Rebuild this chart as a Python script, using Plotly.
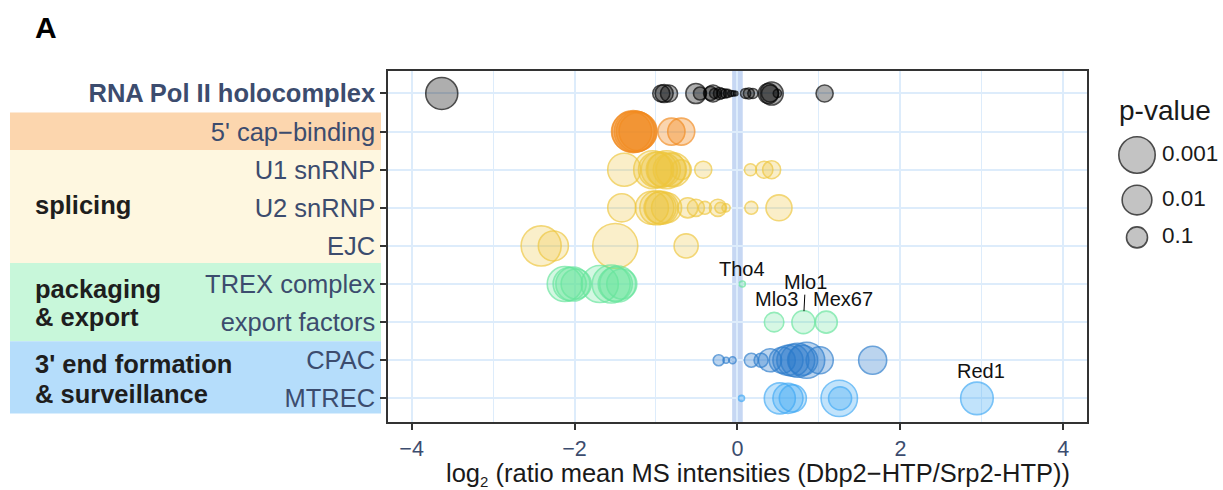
import math
import plotly.graph_objects as go

# ---------------- data ----------------
categories = ["RNA Pol II holocomplex", "5' cap\u2212binding", "U1 snRNP", "U2 snRNP",
              "EJC", "TREX complex", "export factors", "CPAC", "MTREC"]

# log2 ratio values (x) and -log10(p) values (size) per complex
pol2_x = [-3.63, -0.935, -0.90, -0.84, -0.51, -0.46, -0.33, -0.30, -0.28, -0.22, -0.19, -0.15,
          -0.12, -0.08, -0.05, -0.02, 0.10, 0.14, 0.19, 0.38, 0.40, 0.42, 0.49, 1.07]
pol2_s = [2.32, 0.66, 0.73, 0.66, 0.91, 0.38, 0.44, 0.66, 0.23, 0.33, 0.23, 0.18,
          0.15, 0.08, 0.06, 0.04, 0.23, 0.27, 0.23, 0.91, 0.66, 1.20, 0.15, 0.66]

cap_x = [-1.30, -1.28, -1.26, -1.24, -1.22, -0.81, -0.69]
cap_s = [3.63, 4.00, 3.81, 3.63, 3.27, 1.65, 1.65]

u1_x = [-1.39, -1.04, -1.00, -0.96, -0.91, -0.87, -0.83, -0.79, -0.69, -0.42, 0.16, 0.33, 0.42]
u1_s = [2.47, 3.27, 2.78, 2.94, 2.62, 3.27, 2.47, 2.62, 0.91, 0.66, 0.33, 0.66, 0.73]

u2_x = [-1.42, -1.05, -0.99, -0.95, -0.93, -0.87, -0.61, -0.51, -0.40, -0.24, -0.21, -0.14, 0.17, 0.51]
u2_s = [1.78, 2.47, 2.62, 2.32, 2.47, 2.04, 0.91, 0.66, 0.38, 0.66, 0.27, 0.15, 0.38, 1.53]

ejc_x = [-2.41, -2.26, -1.50, -0.63]
ejc_s = [3.63, 2.04, 4.59, 1.31]

trex_x = [-2.12, -2.06, -2.02, -1.98, -1.69, -1.55, -1.50, -1.47, -1.42, 0.06]
trex_s = [2.78, 2.47, 2.62, 2.04, 3.10, 3.27, 2.62, 2.94, 2.04, 0.08]

exp_x = [0.45, 0.81, 1.09]
exp_s = [0.86, 1.20, 1.10]

cpac_x = [-0.23, -0.14, -0.06, 0.17, 0.29, 0.40, 0.55, 0.62, 0.68, 0.74, 0.80, 0.85, 1.01, 1.66]
cpac_s = [0.27, 0.08, 0.11, 0.44, 0.44, 1.20, 1.53, 2.04, 2.32, 2.62, 2.04, 2.94, 1.65, 1.78]

mtrec_x = [0.05, 0.52, 0.62, 0.68, 1.25, 1.26, 2.94]
mtrec_s = [0.08, 2.18, 2.04, 1.65, 3.00, 1.20, 2.40]

# labelled proteins: (name, category, x)
label_names = ["Tho4", "Mlo1", "Mlo3", "Mex67", "Red1"]
label_cats = ["TREX complex", "export factors", "export factors", "export factors", "MTREC"]
label_x = [0.06, 0.81, 0.45, 1.09, 2.94]

legend_p = [0.001, 0.01, 0.1]
legend_labels = ["0.001", "0.01", "0.1"]

x_ticks = [-4, -2, 0, 2, 4]

group_names = ["splicing", "packaging", "& export", "3' end formation", "& surveillance"]

# ---------------- styling ----------------
FONT = "Liberation Sans, Arial, Helvetica, sans-serif"
TICKCOL = "#3C4C6E"
GRID = "#DDECFB"


def size_px(v):
    return 21 * math.sqrt(v)


series = [
    (categories[0], pol2_x, pol2_s, "#000000", "rgba(0,0,0,0.45)"),
    (categories[1], cap_x, cap_s, "#F28A1E", "rgba(242,138,30,0.50)"),
    (categories[2], u1_x, u1_s, "#EEC63C", "rgba(238,198,60,0.40)"),
    (categories[3], u2_x, u2_s, "#EEC63C", "rgba(238,198,60,0.40)"),
    (categories[4], ejc_x, ejc_s, "#EEC63C", "rgba(238,198,60,0.38)"),
    (categories[5], trex_x, trex_s, "#66E59C", "rgba(102,229,156,0.40)"),
    (categories[6], exp_x, exp_s, "#66E59C", "rgba(102,229,156,0.38)"),
    (categories[7], cpac_x, cpac_s, "#2B7BCB", "rgba(43,123,203,0.45)"),
    (categories[8], mtrec_x, mtrec_s, "#3FA9F5", "rgba(63,169,245,0.45)"),
]

fig = go.Figure()
for cat, xs, ss, lc, fc in series:
    fig.add_trace(go.Scatter(
        x=xs, y=[cat] * len(xs), mode="markers",
        marker=dict(size=[size_px(v) for v in ss], color=fc,
                    line=dict(color=lc, width=1.6)),
        showlegend=False, hoverinfo="skip"))

# ---- size legend (drawn on its own small axes) ----
leg_v = [-math.log10(p) for p in legend_p]
leg_d = [size_px(v) for v in leg_v]
key_h = [d + 12 for d in leg_d]
leg_y = [155]
for i in range(1, len(leg_d)):
    leg_y.append(leg_y[-1] + (key_h[i - 1] + key_h[i]) / 2)

fig.add_trace(go.Scatter(
    x=[1137] * len(leg_d), y=leg_y, mode="markers", xaxis="x2", yaxis="y2",
    marker=dict(size=leg_d, color="rgba(0,0,0,0.33)", line=dict(color="#000000", width=1.6)),
    showlegend=False, hoverinfo="skip"))
fig.add_trace(go.Scatter(
    x=[1162] * len(leg_d), y=leg_y, mode="text", xaxis="x2", yaxis="y2",
    text=legend_labels, textposition="middle right",
    textfont=dict(size=22.5, color="#1A1A1A", family=FONT),
    showlegend=False, hoverinfo="skip"))

# ---- shapes ----
shapes = []
# vertical band at zero
shapes.append(dict(type="rect", xref="x", yref="paper", x0=-0.065, x1=0.065, y0=0, y1=1,
                   fillcolor="#C6D7F3", line=dict(width=0), layer="between"))
# left group background boxes
box_x0 = (10 - 388) / 835
box_x1 = (381 - 388) / 835
for y0, y1, col in [(0.5, 1.48, "#FCD6AE"), (1.48, 4.45, "#FEF7E0"),
                    (4.45, 6.5, "#C8F7DA"), (6.5, 8.4, "#B5DDFB")]:
    shapes.append(dict(type="rect", xref="paper", yref="y", x0=box_x0, x1=box_x1,
                       y0=y0, y1=y1, fillcolor=col, line=dict(width=0), layer="below"))

# ---- annotations ----
ann = []
lab_shift = {"Tho4": (0, 15), "Mlo3": (2, 23), "Mex67": (17, 23), "Red1": (4, 27)}
for name, cat, xv in zip(label_names, label_cats, label_x):
    if name == "Mlo1":
        ann.append(dict(x=xv, y=cat, xref="x", yref="y", text=name, showarrow=True,
                        arrowhead=0, arrowwidth=1, arrowcolor="#000000", ax=2, ay=-40,
                        standoff=11, font=dict(size=20, color="#111111", family=FONT)))
    else:
        dx, dy = lab_shift[name]
        ann.append(dict(x=xv, y=cat, xref="x", yref="y", text=name, showarrow=False,
                        xshift=dx, yshift=dy, font=dict(size=20, color="#111111", family=FONT)))

group_y = [2.935, 5.12, 5.87, 7.11, 7.88]
for g, gy in zip(group_names, group_y):
    ann.append(dict(x=(33 - 388) / 835, y=gy, xref="paper", yref="y", text="<b>%s</b>" % g,
                    showarrow=False, xanchor="left", yanchor="middle",
                    font=dict(size=25.5, color="#1E1E1E", family=FONT)))

ann.append(dict(x=(33 - 388) / 835, y=(422 - 27) / 351, xref="paper", yref="paper", text="<b>A</b>",
                showarrow=False, xanchor="left", yanchor="middle",
                font=dict(size=30, color="#000000", family=FONT)))
ann.append(dict(x=(1117 - 388) / 835, y=(422 - 110) / 351, xref="paper", yref="paper", text="p-value",
                showarrow=False, xanchor="left", yanchor="middle",
                font=dict(size=28, color="#1A1A1A", family=FONT)))
ann.append(dict(x=(758 - 388) / 835, y=(422 - 474) / 351, xref="paper", yref="paper",
                text="log<sub><span style=\"font-size:15px\">2</span></sub> (ratio mean MS intensities (Dbp2\u2212HTP/Srp2-HTP))",
                showarrow=False, xanchor="center", yanchor="middle",
                font=dict(size=25.5, color="#1A1A1A", family=FONT)))

ticktext = ["<b>%s</b>" % categories[0]] + categories[1:]

fig.update_layout(
    width=1223, height=490,
    margin=dict(l=388, r=0, t=71, b=68),
    paper_bgcolor="white", plot_bgcolor="white",
    font=dict(family=FONT),
    shapes=shapes, annotations=ann,
    xaxis=dict(domain=[0, 0.837], range=[-4.29, 4.29], tickvals=x_ticks,
               showgrid=True, gridcolor=GRID, gridwidth=2,
               minor=dict(dtick=1, tick0=0, showgrid=True, gridcolor=GRID, gridwidth=1, ticks=""),
               zeroline=False, showline=True, mirror=True, linecolor="#333333", linewidth=1.5,
               ticks="outside", ticklen=6, tickwidth=1.5, tickcolor="#333333",
               tickfont=dict(size=21.5, color=TICKCOL, family=FONT)),
    yaxis=dict(type="category", categoryorder="array", categoryarray=categories,
               range=[8.62, -0.59], autorange=False, tickvals=categories, ticktext=ticktext,
               showgrid=True, gridcolor=GRID, gridwidth=2, zeroline=False,
               showline=True, mirror=True, linecolor="#333333", linewidth=1.5,
               ticks="outside", ticklen=6, tickwidth=1.5, tickcolor="#333333",
               tickfont=dict(size=25.5, color=TICKCOL, family=FONT)),
    xaxis2=dict(domain=[0.85, 1.0], range=[388 + 0.85 * 835, 1223], visible=False,
                anchor="y2", fixedrange=True),
    yaxis2=dict(domain=[0, 1], range=[422, 71], visible=False, anchor="x2", fixedrange=True),
    showlegend=False,
)

fig.write_html("out.html")
